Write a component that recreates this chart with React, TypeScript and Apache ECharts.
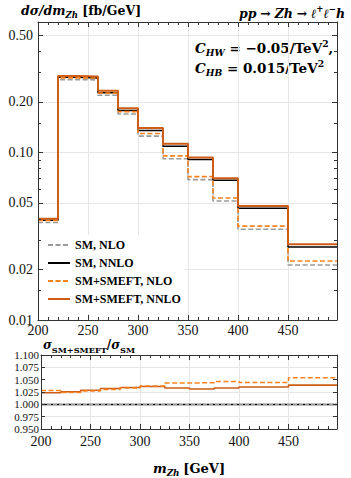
import React, { useEffect, useRef } from "react";
import * as echarts from "echarts";

// ---- data ----
const binEdges = [200, 220, 240, 260, 280, 300, 325, 350, 375, 400, 450, 500];
const smNLO = [0.0382, 0.272, 0.2708, 0.2193, 0.1695, 0.125, 0.0917, 0.0688, 0.0513, 0.0348, 0.0213];
const smNNLO = [0.0394, 0.2806, 0.2784, 0.2267, 0.1778, 0.1352, 0.109, 0.0908, 0.0681, 0.0464, 0.0273];
const smeftNLO = [0.0393, 0.2785, 0.2781, 0.2259, 0.1751, 0.1297, 0.0954, 0.0717, 0.0535, 0.0363, 0.0225];
const smeftNNLO = [0.0402, 0.286, 0.284, 0.233, 0.1835, 0.1398, 0.1127, 0.0933, 0.0702, 0.0479, 0.0283];
const ratioNLO = [1.028, 1.024, 1.027, 1.03, 1.033, 1.037, 1.043, 1.044, 1.0465, 1.0445, 1.054];
const ratioNNLO = [1.0235, 1.0255, 1.0285, 1.032, 1.034, 1.036, 1.033, 1.031, 1.033, 1.035, 1.039];
const smRatio = 1;

const yMajorTicks = [0.01, 0.02, 0.05, 0.1, 0.2, 0.5];
const yMajorLabels = ["0.01", "0.02", "0.05", "0.10", "0.20", "0.50"];
const yMinorTicks = [0.015, 0.03, 0.04, 0.06, 0.07, 0.08, 0.09, 0.15, 0.3, 0.4];
const ratioGridLines = [0.975, 1.025, 1.075];
const legendNames = ["SM, NLO", "SM, NNLO", "SM+SMEFT, NLO", "SM+SMEFT, NNLO"];

const FONT = "'Liberation Serif', 'DejaVu Serif', 'Times New Roman', serif";
const TFONT = "'DejaVu Serif', 'Liberation Serif', serif";
const AXIS_COLOR = "#333";
const GRID_COLOR = "#e6e6e6";
const GRAY = "#9a9a9a";
const ORANGE_DASH = "#f7821e";
const ORANGE_SOLID = "#cc5c16";
const NONE = "rgba(0,0,0,0)";

const yMainMin = 0.01;
const yMainMax = 0.6;

function steps(vals: number[]) {
  return binEdges.map((x, i) => [x, vals[Math.min(i, vals.length - 1)]]);
}

function richSet(size: number) {
  const small = Math.round(size * 0.68 * 10) / 10;
  return {
    bi: { fontFamily: TFONT, fontStyle: "italic", fontWeight: "bold", fontSize: size, lineHeight: 18, color: "#000" },
    b: { fontFamily: TFONT, fontWeight: "bold", fontSize: size, lineHeight: 18, color: "#000" },
    sub: { fontFamily: TFONT, fontStyle: "italic", fontWeight: "bold", fontSize: small, lineHeight: 8, verticalAlign: "bottom", color: "#000" },
    subr: { fontFamily: TFONT, fontWeight: "bold", fontSize: small, lineHeight: 8, verticalAlign: "bottom", color: "#000" },
    sup: { fontFamily: TFONT, fontWeight: "bold", fontSize: small, lineHeight: 11, verticalAlign: "top", color: "#000" },
  };
}

const tickLine = { color: AXIS_COLOR, width: 1 };

function xAxisSet(gridIndex: number, labelMargin: number, extra: any) {
  const common = { type: "value", gridIndex, min: 200, max: 499, interval: 50 };
  return [
    {
      ...common,
      position: "bottom",
      z: 10,
      axisLine: { show: true, onZero: false, lineStyle: tickLine },
      axisTick: { show: true, inside: true, length: 5, lineStyle: tickLine },
      minorTick: { show: true, splitNumber: 5, length: 3, lineStyle: tickLine },
      axisLabel: { show: true, fontFamily: FONT, fontSize: 14, lineHeight: 13, color: "#111", margin: labelMargin, showMaxLabel: false },
      splitLine: { show: false },
      ...extra,
    },
    {
      ...common,
      position: "top",
      z: 10,
      axisLine: { show: true, onZero: false, lineStyle: tickLine },
      axisTick: { show: true, inside: true, length: 5, lineStyle: tickLine },
      minorTick: { show: true, splitNumber: 5, length: 3, lineStyle: tickLine },
      axisLabel: { show: false },
      splitLine: { show: false },
    },
    {
      ...common,
      position: "bottom",
      z: 0,
      axisLine: { show: false },
      axisTick: { show: false },
      minorTick: { show: false },
      axisLabel: { show: false },
      splitLine: { show: true, lineStyle: { color: GRID_COLOR, width: 1 } },
    },
  ];
}

function logTickAxis(position: string, values: number[], len: number, withLabel: boolean, withLine: boolean) {
  return {
    type: "value",
    gridIndex: 0,
    position,
    min: Math.log10(yMainMin),
    max: Math.log10(yMainMax),
    z: 10,
    axisLine: { show: withLine, onZero: false, lineStyle: tickLine },
    axisTick: { show: true, inside: true, length: len, lineStyle: tickLine, customValues: values.map((v) => Math.log10(v)) },
    minorTick: { show: false },
    splitLine: { show: false },
    axisLabel: withLabel
      ? {
          show: true,
          customValues: yMajorTicks.map((v) => Math.log10(v)),
          fontFamily: FONT,
          fontSize: 14,
          color: "#111",
          margin: 5,
          formatter: (val: number) => {
            const idx = yMajorTicks.findIndex((t) => Math.abs(Math.log10(t) - val) < 1e-6);
            return idx >= 0 ? yMajorLabels[idx] : "";
          },
        }
      : { show: false },
  };
}

export default function App() {
  const ref = useRef<HTMLDivElement>(null);

  useEffect(() => {
    if (!ref.current) return;
    const chart = echarts.init(ref.current, undefined, { renderer: "svg" });

    const option: any = {
      animation: false,
      backgroundColor: "#fff",
      grid: [
        { left: 38, right: 14, top: 22, height: 298 },
        { left: 41, right: 14, top: 355, height: 75 },
      ],
      xAxis: [
        ...xAxisSet(0, 4, {}),
        ...xAxisSet(1, 6, {
          name: "{bi|m}{sub|Zh} {b|[GeV]}",
          nameLocation: "middle",
          nameGap: 30,
          nameTextStyle: { rich: richSet(13), fontFamily: TFONT },
        }),
      ],
      yAxis: [
        // 0: data axis (log)
        { type: "log", logBase: 10, gridIndex: 0, min: yMainMin, max: yMainMax, show: false },
        // 1-4: frame, ticks, labels
        logTickAxis("left", yMajorTicks, 5, true, true),
        logTickAxis("left", yMinorTicks, 3, false, false),
        logTickAxis("right", yMajorTicks, 5, false, true),
        logTickAxis("right", yMinorTicks, 3, false, false),
        // 5: grid lines
        {
          type: "value",
          gridIndex: 0,
          position: "left",
          min: Math.log10(yMainMin),
          max: Math.log10(yMainMax),
          z: 0,
          axisLine: { show: false },
          axisTick: { show: false, customValues: yMajorTicks.map((v) => Math.log10(v)) },
          axisLabel: { show: false },
          splitLine: { show: true, lineStyle: { color: GRID_COLOR, width: 1 } },
        },
        // 6: ratio axis
        {
          type: "value",
          gridIndex: 1,
          position: "left",
          min: 0.95,
          max: 1.1,
          interval: 0.025,
          z: 10,
          axisLine: { show: true, onZero: false, lineStyle: tickLine },
          axisTick: { show: true, inside: true, length: 4, lineStyle: tickLine },
          axisLabel: {
            show: true,
            showMinLabel: true,
            showMaxLabel: true,
            hideOverlap: false,
            fontFamily: FONT,
            fontSize: 11,
            lineHeight: 11,
            color: "#111",
            margin: 2,
            formatter: (v: number) => v.toFixed(3),
          },
          splitLine: { show: false },
        },
        {
          type: "value",
          gridIndex: 1,
          position: "right",
          min: 0.95,
          max: 1.1,
          interval: 0.025,
          z: 10,
          axisLine: { show: true, onZero: false, lineStyle: tickLine },
          axisTick: { show: true, inside: true, length: 4, lineStyle: tickLine },
          axisLabel: { show: false },
          splitLine: { show: false },
        },
        {
          type: "value",
          gridIndex: 1,
          position: "left",
          min: 0.95,
          max: 1.1,
          z: 0,
          axisLine: { show: false },
          axisTick: { show: false, customValues: ratioGridLines },
          axisLabel: { show: false },
          splitLine: { show: true, lineStyle: { color: GRID_COLOR, width: 1 } },
        },
      ],
      legend: {
        data: legendNames,
        orient: "vertical",
        left: 40,
        top: 235,
        padding: [3, 4, 8, 7],
        itemWidth: 22,
        itemHeight: 14,
        itemGap: 4,
        backgroundColor: "#fff",
        selectedMode: false,
        itemStyle: { opacity: 0 },
        textStyle: { fontFamily: FONT, fontWeight: "bold", fontSize: 12, color: "#000", lineHeight: 14 },
      },
      series: [
        {
          name: "SM, NLO",
          type: "line",
          step: "end",
          xAxisIndex: 0,
          yAxisIndex: 0,
          symbol: "none",
          data: steps(smNLO),
          lineStyle: { color: GRAY, width: 1.6, type: [5, 2.5] },
          itemStyle: { color: NONE },
        },
        {
          name: "SM, NNLO",
          type: "line",
          step: "end",
          xAxisIndex: 0,
          yAxisIndex: 0,
          symbol: "none",
          data: steps(smNNLO),
          lineStyle: { color: "#000", width: 1.5 },
          itemStyle: { color: NONE },
        },
        {
          name: "SM+SMEFT, NLO",
          type: "line",
          step: "end",
          xAxisIndex: 0,
          yAxisIndex: 0,
          symbol: "none",
          data: steps(smeftNLO),
          lineStyle: { color: ORANGE_DASH, width: 1.6, type: [5, 2.5] },
          itemStyle: { color: NONE },
        },
        {
          name: "SM+SMEFT, NNLO",
          type: "line",
          step: "end",
          xAxisIndex: 0,
          yAxisIndex: 0,
          symbol: "none",
          data: steps(smeftNNLO),
          lineStyle: { color: ORANGE_SOLID, width: 2 },
          itemStyle: { color: NONE },
        },
        {
          name: "ratio NNLO",
          type: "line",
          step: "end",
          xAxisIndex: 3,
          yAxisIndex: 6,
          symbol: "none",
          data: steps(ratioNNLO),
          lineStyle: { color: ORANGE_SOLID, width: 1.6 },
          markLine: {
            silent: true,
            symbol: "none",
            label: { show: false },
            data: [
              { yAxis: smRatio, lineStyle: { color: "#000", width: 1.4, type: "solid" } },
              { yAxis: smRatio, lineStyle: { color: GRAY, width: 1.2, type: [4, 2] } },
            ],
          },
        },
        {
          name: "ratio NLO",
          type: "line",
          step: "end",
          xAxisIndex: 3,
          yAxisIndex: 6,
          symbol: "none",
          data: steps(ratioNLO),
          lineStyle: { color: ORANGE_DASH, width: 1.5, type: [5, 2.5] },
        },
      ],
      graphic: [
        {
          type: "text",
          left: 21,
          top: 4,
          style: { text: "{bi|dσ/dm}{sub|Zh}{b| [fb/GeV]}", rich: richSet(12.5), fontFamily: TFONT },
        },
        {
          type: "text",
          right: 6,
          top: 4,
          style: {
            text: "{bi|pp} {b|→} {bi|Zh} {b|→} {bi|ℓ}{sup|+}{bi|ℓ}{sup|−}{bi|h}",
            rich: richSet(12.5),
            fontFamily: TFONT,
          },
        },
        {
          type: "text",
          left: 195,
          top: 39,
          style: { text: "{bi|C}{sub|HW}{b| = −0.05/TeV}{sup|2}{b|,}", rich: richSet(13.5), fontFamily: TFONT },
        },
        {
          type: "text",
          left: 195,
          top: 59,
          style: { text: "{bi|C}{sub|HB}{b| = 0.015/TeV}{sup|2}", rich: richSet(13.5), fontFamily: TFONT },
        },
        {
          type: "text",
          left: 43,
          top: 339,
          style: { text: "{bi|σ}{subr|SM+SMEFT}{b|/}{bi|σ}{subr|SM}", rich: richSet(12), fontFamily: TFONT },
        },
      ],
    };

    chart.setOption(option);
    return () => chart.dispose();
  }, []);

  return (
    <div
      ref={ref}
      style={{ position: "fixed", left: 0, top: 0, width: 351, height: 478, background: "#fff" }}
    />
  );
}
